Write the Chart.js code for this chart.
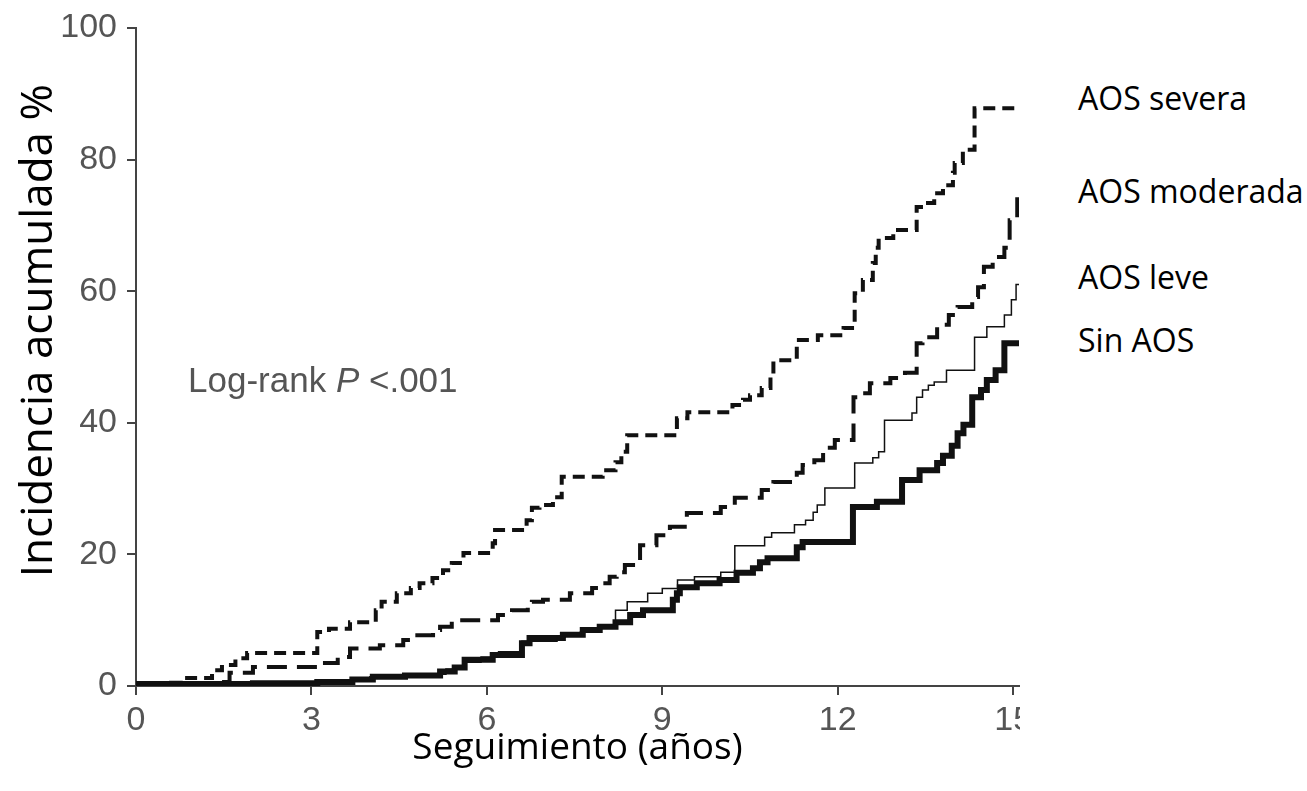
<!DOCTYPE html>
<html>
<head>
<meta charset="utf-8">
<script src="https://cdn.jsdelivr.net/npm/chart.js@4.4.1/dist/chart.umd.min.js"></script>
<style>
body{margin:0;background:#fff;}
#wrap{position:relative;width:1307px;height:791px;overflow:hidden;background:#fff;}
#chart{position:absolute;left:0;top:0;}
.lbl{position:absolute;left:1078px;font-family:"Open Sans",sans-serif;font-size:32px;line-height:32px;color:#000;white-space:nowrap;}
</style>
</head>
<body>
<div id="wrap">
  <canvas id="chart" width="1020" height="791"></canvas>
</div>
<script>
// follow-up time (years) and cumulative incidence (%) at each step
const sinT = [0, 2.0, 3.1, 3.7, 4.05, 4.6, 5.2, 5.45, 5.62, 6.1, 6.6, 6.73, 7.3, 7.64, 7.93, 8.2, 8.45, 8.67, 9.18, 9.25, 9.3, 9.59, 9.98, 10.27, 10.55, 10.67, 10.8, 11.3, 11.4, 12.26, 12.67, 13.1, 13.4, 13.7, 13.8, 13.95, 14.05, 14.15, 14.3, 14.45, 14.55, 14.7, 14.85, 15.1];
const sinY = [0.3, 0.4, 0.6, 1.0, 1.4, 1.6, 2.2, 2.8, 4.0, 4.7, 6.5, 7.3, 7.8, 8.5, 9.0, 9.7, 10.8, 11.5, 13.1, 14.1, 15.0, 15.6, 16.1, 17.2, 17.9, 18.8, 19.4, 21.1, 21.9, 27.2, 28.0, 31.3, 32.8, 33.9, 35.0, 36.5, 38.4, 39.7, 43.9, 45.0, 46.5, 48.0, 52.1, 52.1];

const leveT = [0, 1.0, 2.5, 3.5, 4.0, 4.8, 5.3, 5.6, 5.9, 6.2, 6.6, 7.2, 7.6, 7.9, 8.2, 8.4, 8.75, 9.0, 9.26, 9.55, 10.0, 10.24, 10.75, 10.87, 11.26, 11.45, 11.58, 11.65, 11.78, 12.29, 12.6, 12.7, 12.8, 13.27, 13.35, 13.45, 13.55, 13.65, 13.86, 14.34, 14.55, 14.85, 14.97, 15.05, 15.1];
const leveY = [0.3, 0.5, 0.6, 0.9, 1.4, 1.8, 2.6, 3.6, 4.4, 5.2, 6.8, 7.6, 8.2, 9.3, 11.5, 12.8, 14.1, 14.8, 16.1, 16.6, 17.3, 21.3, 22.6, 23.3, 24.5, 25.2, 26.4, 27.5, 30.1, 33.9, 34.7, 35.6, 40.4, 41.5, 43.9, 45.0, 45.7, 46.2, 48.0, 53.0, 54.6, 56.4, 58.7, 61.0, 61.0];

const moderadaT = [0, 1.38, 1.6, 2.0, 3.1, 3.45, 3.66, 4.17, 4.57, 4.74, 5.08, 5.2, 5.4, 6.19, 6.43, 6.7, 6.77, 6.96, 7.42, 7.8, 7.93, 8.1, 8.22, 8.36, 8.5, 8.62, 8.9, 9.13, 9.42, 10.0, 10.24, 10.7, 10.9, 11.3, 11.4, 11.6, 11.75, 11.95, 12.27, 12.3, 12.55, 12.9, 13.15, 13.35, 13.45, 13.7, 13.9, 14.05, 14.3, 14.4, 14.5, 14.65, 14.85, 14.94, 15.07, 15.1];
const moderadaY = [0, 0.6, 2.0, 2.9, 3.5, 4.4, 5.7, 6.2, 7.0, 7.7, 8.5, 9.0, 10.0, 10.8, 11.5, 12.0, 12.8, 13.1, 14.1, 14.9, 15.6, 16.6, 17.3, 18.4, 19.1, 21.4, 22.9, 24.2, 26.3, 27.2, 28.6, 29.8, 31.0, 32.4, 33.6, 34.3, 36.2, 37.4, 43.9, 44.5, 46.0, 46.8, 47.6, 52.1, 53.0, 54.9, 56.4, 57.6, 59.1, 60.6, 63.7, 65.2, 66.6, 70.8, 75.0, 75.0];

const severaT = [0, 0.6, 0.8, 1.3, 1.47, 1.7, 1.9, 3.1, 3.3, 3.66, 4.1, 4.2, 4.46, 4.7, 4.85, 5.07, 5.25, 5.4, 5.6, 6.1, 6.14, 6.68, 6.77, 6.9, 7.13, 7.28, 7.98, 8.2, 8.3, 8.4, 9.25, 9.43, 10.2, 10.38, 10.5, 10.7, 10.85, 10.9, 11.3, 11.66, 12.1, 12.29, 12.43, 12.6, 12.65, 12.7, 12.95, 13.35, 13.5, 13.65, 13.8, 13.97, 14.0, 14.14, 14.34, 15.1];
const severaY = [0, 0.5, 1.2, 2.4, 3.2, 4.2, 5.0, 8.2, 8.7, 9.7, 11.5, 12.8, 14.1, 14.9, 15.6, 16.4, 17.6, 18.7, 20.2, 21.7, 23.7, 25.2, 27.1, 27.5, 28.7, 31.8, 32.8, 34.0, 35.6, 38.1, 40.7, 41.6, 42.7, 43.5, 44.2, 45.3, 47.5, 49.5, 52.6, 53.3, 54.4, 59.7, 61.7, 64.3, 66.6, 68.1, 69.3, 72.8, 73.4, 74.9, 76.1, 78.0, 79.5, 81.5, 87.8, 87.8];

const xTicks = [0, 3, 6, 9, 12, 15];
const yTicks = [0, 20, 40, 60, 80, 100];
const seriesNames = ['AOS severa', 'AOS moderada', 'AOS leve', 'Sin AOS'];
const labelAt = [87.6, 73.4, 60.4, 50.7];
const xTitle = 'Seguimiento (años)';
const yTitle = 'Incidencia acumulada %';
const noteParts = [['Log-rank ', false], ['P', true], [' <.001', false]];

const toPoints = (ts, vs) => ts.map((t, i) => ({x: t, y: vs[i]}));

const textPlugin = {
    id: 'texts',
    afterDraw(chart){
        const {ctx, scales: {x, y}} = chart;
        ctx.save();
        ctx.fillStyle = '#000';
        ctx.font = '44px "Open Sans"';
        ctx.textAlign = 'center';
        ctx.textBaseline = 'alphabetic';
        ctx.translate(52, y.getPixelForValue(54));
        ctx.rotate(-Math.PI / 2);
        ctx.fillText(yTitle, 0, 0);
        ctx.restore();

        ctx.save();
        ctx.fillStyle = '#555';
        ctx.textAlign = 'left';
        ctx.textBaseline = 'alphabetic';
        let px = x.getPixelForValue(0.89);
        const py = y.getPixelForValue(44.7);
        noteParts.forEach(([txt, italic]) => {
            ctx.font = (italic ? 'italic ' : '') + '35px "Liberation Sans"';
            ctx.fillText(txt, px, py);
            px += ctx.measureText(txt).width;
        });
        ctx.restore();
    }
};

const axisGrid = {drawOnChartArea: false, drawTicks: true, tickLength: 9, color: '#444', lineWidth: 2};
const tickFont = {family: '"Liberation Sans", Arial, sans-serif', size: 34};

const chart = new Chart(document.getElementById('chart'), {
    type: 'line',
    data: {
        datasets: [
            {label: seriesNames[0], data: toPoints(severaT, severaY), borderColor: '#111', borderWidth: 4, borderDash: [12, 7]},
            {label: seriesNames[1], data: toPoints(moderadaT, moderadaY), borderColor: '#111', borderWidth: 4, borderDash: [20, 10]},
            {label: seriesNames[2], data: toPoints(leveT, leveY), borderColor: '#111', borderWidth: 1.5},
            {label: seriesNames[3], data: toPoints(sinT, sinY), borderColor: '#111', borderWidth: 6}
        ]
    },
    options: {
        responsive: false,
        animation: false,
        layout: {padding: {top: 28, right: 1, bottom: 0, left: 0}},
        elements: {
            line: {stepped: true, fill: false, borderCapStyle: 'butt'},
            point: {radius: 0}
        },
        plugins: {legend: {display: false}, tooltip: {enabled: false}},
        scales: {
            x: {
                type: 'linear',
                min: 0,
                max: 15.1,
                afterBuildTicks: s => { s.ticks = xTicks.map(v => ({value: v})); },
                afterFit: s => { s.height = 105; s.paddingLeft = 0; s.paddingRight = 0; },
                grid: axisGrid,
                border: {color: '#444', width: 2},
                ticks: {font: tickFont, color: '#555', padding: 5, maxRotation: 0, autoSkip: false},
                title: {display: true, text: xTitle, color: '#000', font: {family: '"Open Sans"', size: 37}, padding: {top: 0, bottom: 20}}
            },
            y: {
                type: 'linear',
                min: 0,
                max: 100,
                afterBuildTicks: s => { s.ticks = yTicks.map(v => ({value: v})); },
                afterFit: s => { s.width = 136; s.paddingTop = 0; s.paddingBottom = 0; },
                grid: axisGrid,
                border: {color: '#444', width: 2},
                ticks: {font: tickFont, color: '#555', padding: 10}
            }
        }
    },
    plugins: [textPlugin]
});

const wrap = document.getElementById('wrap');
seriesNames.forEach((name, i) => {
    const d = document.createElement('div');
    d.className = 'lbl';
    d.textContent = name;
    d.style.top = (chart.scales.y.getPixelForValue(labelAt[i]) - 28) + 'px';
    wrap.appendChild(d);
});
</script>
</body>
</html>
